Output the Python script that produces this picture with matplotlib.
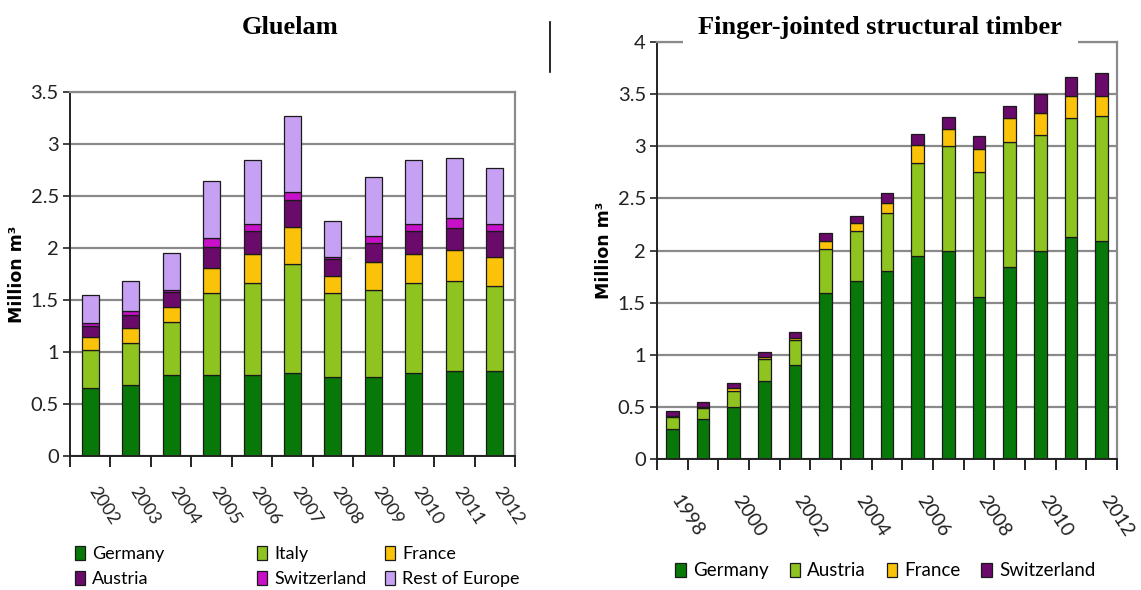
import matplotlib
matplotlib.use("Agg")
import matplotlib.pyplot as plt
from matplotlib.lines import Line2D
from matplotlib.patches import Patch
from matplotlib.ticker import FixedLocator, MultipleLocator, FuncFormatter
import numpy as np

# --- data: million m3 per country, stacked ---
glue_years = ["2002", "2003", "2004", "2005", "2006", "2007", "2008", "2009", "2010", "2011", "2012"]
glue_germany = [0.655, 0.68, 0.78, 0.78, 0.78, 0.80, 0.76, 0.76, 0.80, 0.82, 0.82]
glue_italy = [0.365, 0.41, 0.51, 0.79, 0.88, 1.05, 0.81, 0.835, 0.86, 0.86, 0.81]
glue_france = [0.12, 0.14, 0.145, 0.24, 0.28, 0.35, 0.16, 0.27, 0.28, 0.30, 0.285]
glue_austria = [0.11, 0.125, 0.14, 0.20, 0.22, 0.26, 0.16, 0.185, 0.225, 0.215, 0.25]
glue_switzerland = [0.03, 0.035, 0.025, 0.09, 0.07, 0.08, 0.02, 0.065, 0.07, 0.095, 0.07]
glue_rest = [0.27, 0.29, 0.35, 0.54, 0.62, 0.73, 0.35, 0.57, 0.615, 0.58, 0.535]

fj_years = [str(y) for y in range(1998, 2013)]
fj_germany = [0.29, 0.385, 0.50, 0.75, 0.90, 1.59, 1.71, 1.80, 1.95, 2.00, 1.55, 1.84, 2.00, 2.13, 2.095]
fj_austria = [0.11, 0.105, 0.15, 0.205, 0.24, 0.425, 0.48, 0.56, 0.89, 1.00, 1.20, 1.20, 1.11, 1.14, 1.195]
fj_france = [0.01, 0.01, 0.03, 0.025, 0.02, 0.08, 0.07, 0.10, 0.17, 0.17, 0.22, 0.23, 0.21, 0.21, 0.19]
fj_switzerland = [0.055, 0.05, 0.05, 0.045, 0.055, 0.075, 0.07, 0.09, 0.11, 0.11, 0.13, 0.12, 0.185, 0.18, 0.22]

C_GERMANY = "#087808"
C_LIGHTGREEN = "#8fc31f"
C_FRANCE = "#fbc20a"
C_DARKPURPLE = "#6a0a6a"
C_MAGENTA = "#c810c8"
C_LILAC = "#c6a0f2"

TICK_FONT = ["Lato", "DejaVu Sans"]

fig = plt.figure(figsize=(11.41, 5.9), dpi=100)


def style_axes(ax, ymax, n):
    ax.set_ylim(0, ymax)
    ax.set_xlim(-0.5, n - 0.5)
    ax.yaxis.set_major_locator(MultipleLocator(0.5))
    ax.yaxis.set_major_formatter(FuncFormatter(lambda v, p: f"{v:g}"))
    ax.yaxis.grid(True, color="#8a8a8a", linewidth=1.6)
    ax.set_axisbelow(True)
    for side in ("top", "right"):
        ax.spines[side].set_color("#8a8a8a")
        ax.spines[side].set_linewidth(1.6)
    for side in ("left", "bottom"):
        ax.spines[side].set_color("#222222")
        ax.spines[side].set_linewidth(1.4)
    ax.xaxis.set_minor_locator(FixedLocator(np.arange(-0.5, n, 1.0)))
    ax.tick_params(axis="x", which="minor", length=8, width=1.2, direction="out")
    ax.tick_params(axis="x", which="major", length=0, pad=20)
    ax.tick_params(axis="y", length=5, width=1.2, labelsize=14.5, colors="#222222", pad=3)
    for lab in ax.get_yticklabels():
        lab.set_family(TICK_FONT)
    ax.set_ylabel("Million m³", fontsize=12.5, fontweight="bold", labelpad=3)


def stacked(ax, series, colors, width):
    x = np.arange(len(series[0]))
    bottom = np.zeros(len(x))
    for vals, col in zip(series, colors):
        ax.bar(x, vals, width, bottom=bottom, color=col, edgecolor="#1a1a1a", linewidth=0.9)
        bottom += np.array(vals)
    return x


# --- Gluelam ---
ax1 = fig.add_axes([0.0613, 0.2271, 0.3901, 0.617])
glue_series = [glue_germany, glue_italy, glue_france, glue_austria, glue_switzerland, glue_rest]
glue_colors = [C_GERMANY, C_LIGHTGREEN, C_FRANCE, C_DARKPURPLE, C_MAGENTA, C_LILAC]
x1 = stacked(ax1, glue_series, glue_colors, 0.42)
style_axes(ax1, 3.5, len(glue_years))
ax1.set_xticks(x1)
ax1.set_xticklabels(glue_years, rotation=-57, ha="left", va="top", fontsize=13,
                    family=TICK_FONT, color="#222222")
shift1 = matplotlib.transforms.ScaledTranslation(-4 / 100, 0, fig.dpi_scale_trans)
for lab in ax1.get_xticklabels():
    lab.set_transform(lab.get_transform() + shift1)

# --- Finger-jointed structural timber ---
ax2 = fig.add_axes([0.5758, 0.222, 0.4032, 0.7068])
fj_series = [fj_germany, fj_austria, fj_france, fj_switzerland]
fj_colors = [C_GERMANY, C_LIGHTGREEN, C_FRANCE, C_DARKPURPLE]
x2 = stacked(ax2, fj_series, fj_colors, 0.42)
style_axes(ax2, 4.0, len(fj_years))
ax2.set_xticks(x2[::2])
ax2.set_xticklabels(fj_years[::2], rotation=-57, ha="left", va="top", fontsize=14,
                    family=TICK_FONT, color="#222222")
ax2.tick_params(axis="x", which="major", pad=24)
for lab in ax2.get_xticklabels():
    lab.set_transform(lab.get_transform() + shift1)

# --- titles and separator ---
fig.text(0.254, 0.954, "Gluelam", ha="center", va="center", fontsize=19,
         fontweight="bold", family="Liberation Serif")
fig.text(0.7715, 0.954, "Finger-jointed structural timber", ha="center", va="center",
         fontsize=19, fontweight="bold", family="Liberation Serif",
         bbox=dict(facecolor="white", edgecolor="none", pad=11))
fig.add_artist(Line2D([0.482, 0.482], [0.9627, 0.878], color="black", linewidth=1.2,
                      transform=fig.transFigure))


# --- legends ---
def handles(labels, colors):
    return [Patch(facecolor=c, edgecolor="#1a1a1a", linewidth=0.9, label=l)
            for l, c in zip(labels, colors)]


legend_kw = dict(loc="upper left", frameon=False, borderpad=0, borderaxespad=0,
                 handlelength=0.55, handleheight=0.75, handletextpad=0.4)

glue_labels = ["Germany", "Italy", "France", "Austria", "Switzerland", "Rest of Europe"]
h1 = handles(glue_labels, glue_colors)
# one legend per column so the columns sit at fixed x positions
for col, xpos in enumerate([0.0657, 0.2253, 0.3374]):
    fig.legend([h1[col], h1[col + 3]], [glue_labels[col], glue_labels[col + 3]],
               bbox_to_anchor=(xpos, 0.074), labelspacing=0.5,
               prop={"family": TICK_FONT, "size": 13}, **legend_kw)

fj_labels = ["Germany", "Austria", "France", "Switzerland"]
h2 = handles(fj_labels, fj_colors)
fig.legend(h2, fj_labels, ncol=4, bbox_to_anchor=(0.592, 0.047), columnspacing=1.1,
           prop={"family": TICK_FONT, "size": 13.5}, **legend_kw)

fig.savefig("out.png", dpi=100)
